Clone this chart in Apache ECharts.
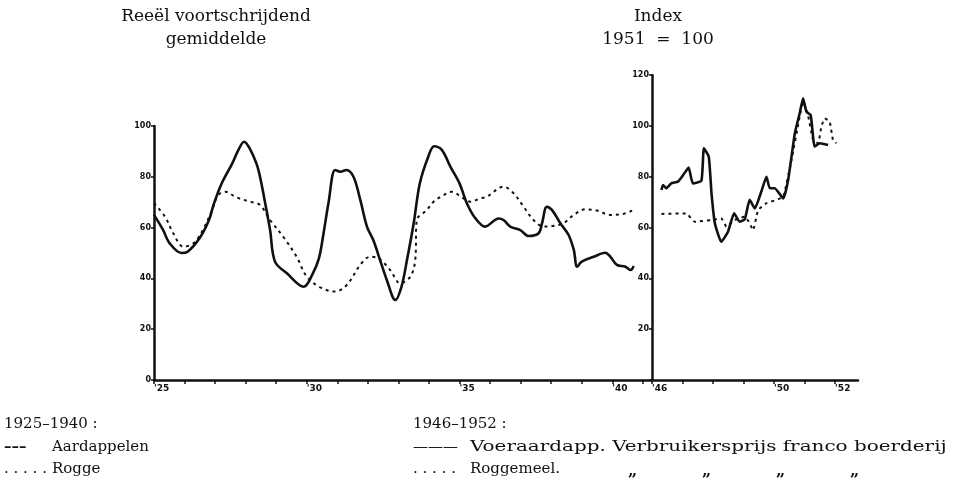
<!DOCTYPE html>
<html>
<head>
<meta charset="utf-8">
<script src="https://cdn.jsdelivr.net/npm/echarts@6/dist/echarts.min.js"></script>
<style>
  html, body { margin: 0; padding: 0; background: #fff; }
  #chart { width: 976px; height: 493px; }
</style>
</head>
<body>
<div id="chart"></div>
<script>
// 1925-1940, reeel voortschrijdend gemiddelde
var aardYears = [1925.0, 1925.3, 1925.5, 1925.9, 1926.1, 1926.5, 1926.8, 1926.95, 1927.2, 1927.55, 1927.76, 1927.95,
  1928.14, 1928.36, 1928.47, 1928.64, 1928.8, 1928.96, 1929.35, 1929.9, 1930.2, 1930.4, 1930.55, 1930.71, 1930.93,
  1931.1, 1931.3, 1931.53, 1931.75, 1931.97, 1932.18, 1932.4, 1932.62, 1932.9, 1933.1, 1933.28, 1933.5, 1933.7,
  1933.98, 1934.17, 1934.42, 1934.7, 1935.0, 1935.24, 1935.5, 1935.84, 1936.28, 1936.44, 1936.66, 1936.99, 1937.26,
  1937.59, 1937.7, 1937.86, 1938.03, 1938.3, 1938.57, 1938.74, 1938.85, 1939.0, 1939.39, 1939.77, 1939.94, 1940.15,
  1940.43, 1940.6, 1940.7];
var aardVals = [65, 59, 54, 50, 50.5, 56, 63, 69, 77, 85, 90.5, 93.8,
  91, 85, 80, 69.6, 59, 46.6, 42, 36.7, 42, 48, 57.8, 69.6, 82.7,
  82, 82.7, 80, 71, 60.4, 55, 47.2, 39.4, 31.5, 36.7, 47.2, 61.7, 77.4,
  88, 92, 90.6, 84, 77.4, 69.6, 64, 60.4, 63.6, 63, 60.4, 59, 56.7,
  57.8, 61.7, 68.2, 66.9, 61.7, 57.1, 51.2, 44.6, 46.6, 48.5, 50.1, 48.5, 45.3,
  44.6, 43.3, 44.9];

var roggeYears = [1925.0, 1925.36, 1925.63, 1925.96, 1926.29, 1926.6, 1926.9, 1927.1, 1927.33, 1927.7, 1928.14, 1928.47,
  1928.8, 1929.23, 1929.67, 1930.0, 1930.44, 1930.93, 1931.31, 1931.75, 1932.07, 1932.35, 1932.73, 1933.06, 1933.39,
  1933.55, 1933.6, 1933.93, 1934.15, 1934.48, 1934.75, 1935.08, 1935.35, 1935.68, 1935.9, 1936.44, 1936.77, 1937.1,
  1937.42, 1937.75, 1938.03, 1938.4, 1938.74, 1939.12, 1939.5, 1939.94, 1940.37, 1940.65];
var roggeVals = [69.6, 64.3, 57.8, 52.5, 53.8, 59, 66.9, 72.8, 74.1, 71.9, 70.2, 68.9,
  63, 56.4, 48.5, 40.7, 36.5, 34.8, 37.4, 45.3, 48.5, 47.9, 43.3, 38.1, 40.7,
  47.2, 63, 66.9, 70.2, 72.8, 74.1, 71.9, 70.2, 71.5, 72.2, 76.1, 73.5, 68.2,
  63, 60.4, 60.6, 61.7, 65, 67.2, 66.7, 65, 65.4, 66.7];

// 1946-1952, index 1951 = 100
var voerYears = [1946.31, 1946.36, 1946.47, 1946.63, 1946.85, 1947.02, 1947.2, 1947.34, 1947.62, 1947.7, 1947.86,
  1947.95, 1948.06, 1948.27, 1948.49, 1948.69, 1948.87, 1949.04, 1949.2, 1949.37, 1949.58, 1949.75, 1949.86,
  1950.02, 1950.3, 1950.46, 1950.68, 1950.84, 1950.95, 1951.06, 1951.2, 1951.33, 1951.5, 1951.77];
var voerVals = [74.8, 76.8, 75.5, 77.4, 78.1, 80.7, 83.6, 77.4, 78.5, 91.2, 87.9,
  73.5, 61.7, 54.4, 58.4, 65.6, 62.3, 63.3, 70.9, 67.6, 74.1, 80, 75.5,
  75.5, 71.5, 78.7, 97.1, 105, 110.9, 105.6, 104.3, 91.9, 93.2, 92.5];

var meelYears = [1946.31, 1947.12, 1947.4, 1947.95, 1948.27, 1948.44, 1948.71, 1949.04, 1949.2, 1949.31, 1949.48,
  1949.75, 1950.08, 1950.3, 1950.57, 1950.84, 1950.95, 1951.11, 1951.28, 1951.44, 1951.55, 1951.66, 1951.82,
  1951.93, 1952.04];
var meelVals = [65.4, 65.6, 62.3, 63, 63.6, 60.4, 63, 64.3, 61.7, 59, 66.9,
  69.6, 70.9, 72.2, 86.6, 103.7, 109.6, 104.3, 94.5, 93.2, 99.7, 103, 101.7,
  94.5, 93.2];

var leftTicks = [1925, 1930, 1935, 1940];
var rightTicks = [1946, 1950, 1952];

function pairs(xs, ys) {
  return xs.map(function (x, i) { return [x, ys[i]]; });
}
function yearLabel(list) {
  return function (v) {
    var y = Math.round(v);
    if (Math.abs(v - y) > 0.01 || list.indexOf(y) < 0) return '';
    return "'" + String(y).slice(2);
  };
}

var ink = '#111';
var f15 = '15px "DejaVu Serif"';
var f17 = '17px "DejaVu Serif"';

function txt(x, y, s, font, sx) {
  return { type: 'text', x: x, y: y, scaleX: sx || 1, style: { text: s, fill: ink, font: font || f15 } };
}

var axisBase = {
  axisLine: { show: true, lineStyle: { color: ink, width: 2.5 } },
  splitLine: { show: false }
};
var xLabel = { align: 'left', margin: 4, color: ink, fontSize: 9, fontWeight: 'bold',
  fontFamily: 'DejaVu Sans', showMaxLabel: false };
var yLabel = { margin: 3, color: ink, fontSize: 8, fontWeight: 'bold', fontFamily: 'DejaVu Sans' };
var tick = { show: true, length: 4, lineStyle: { color: ink, width: 1.5 } };

var chart = echarts.init(document.getElementById('chart'));
chart.setOption({
  backgroundColor: '#fff',
  animation: false,
  grid: [
    { left: 154, right: 324, top: 126, bottom: 113 },
    { left: 652, right: 118, top: 75.2, bottom: 113 }
  ],
  xAxis: [
    Object.assign({}, axisBase, {
      type: 'value', gridIndex: 0, min: 1925, max: 1941.3, interval: 1, axisTick: tick,
      axisLabel: Object.assign({ formatter: yearLabel(leftTicks) }, xLabel)
    }),
    Object.assign({}, axisBase, {
      type: 'value', gridIndex: 1, min: 1946, max: 1952.75, interval: 1, axisTick: tick,
      axisLabel: Object.assign({ formatter: yearLabel(rightTicks) }, xLabel)
    })
  ],
  yAxis: [
    Object.assign({}, axisBase, {
      type: 'value', gridIndex: 0, min: 0, max: 100, interval: 20,
      axisTick: { show: true, length: 3, lineStyle: { color: ink, width: 1.5 } },
      axisLabel: yLabel
    }),
    Object.assign({}, axisBase, {
      type: 'value', gridIndex: 1, min: 0, max: 120, interval: 20,
      axisTick: { show: true, length: 3, lineStyle: { color: ink, width: 1.5 } },
      axisLabel: Object.assign({ formatter: function (v) { return v === 0 ? '' : v; } }, yLabel)
    })
  ],
  series: [
    {
      name: 'Aardappelen', type: 'line', xAxisIndex: 0, yAxisIndex: 0,
      data: pairs(aardYears, aardVals), showSymbol: false, smooth: 0.35,
      lineStyle: { color: ink, width: 2.6 }
    },
    {
      name: 'Rogge', type: 'line', xAxisIndex: 0, yAxisIndex: 0,
      data: pairs(roggeYears, roggeVals), showSymbol: false, smooth: 0.35,
      lineStyle: { color: ink, width: 2, type: [3, 4] }
    },
    {
      name: 'Voeraardapp. Verbruikersprijs franco boerderij', type: 'line', xAxisIndex: 1, yAxisIndex: 1,
      data: pairs(voerYears, voerVals), showSymbol: false, smooth: 0.15,
      lineStyle: { color: ink, width: 2.6 }
    },
    {
      name: 'Roggemeel.', type: 'line', xAxisIndex: 1, yAxisIndex: 1,
      data: pairs(meelYears, meelVals), showSymbol: false, smooth: 0.15,
      lineStyle: { color: ink, width: 2, type: [3, 4] }
    }
  ],
  graphic: [
    // titels boven de panelen
    { type: 'text', x: 216, y: 5, style: { text: 'Reeël voortschrijdend\ngemiddelde', fill: ink,
      font: f17, align: 'center', lineHeight: 23 } },
    { type: 'text', x: 658, y: 5, style: { text: 'Index\n1951  =  100', fill: ink,
      font: f17, align: 'center', lineHeight: 23 } },
    // legenda onderaan
    txt(4, 417, '1925–1940 :'),
    txt(4, 440, '–––', 'bold 15px "DejaVu Serif"'),
    txt(52, 440, 'Aardappelen'),
    txt(4, 462, '. . . . .'),
    txt(52, 462, 'Rogge'),
    txt(413, 417, '1946–1952 :'),
    txt(413, 440, '———'),
    txt(470, 440, 'Voeraardapp. Verbruikersprijs franco boerderij', f15, 1.33),
    txt(413, 462, '. . . . .'),
    txt(470, 462, 'Roggemeel.'),
    txt(628, 464, '„', 'bold 16px "DejaVu Serif"'),
    txt(702, 464, '„', 'bold 16px "DejaVu Serif"'),
    txt(776, 464, '„', 'bold 16px "DejaVu Serif"'),
    txt(850, 464, '„', 'bold 16px "DejaVu Serif"')
  ]
});
</script>
</body>
</html>
